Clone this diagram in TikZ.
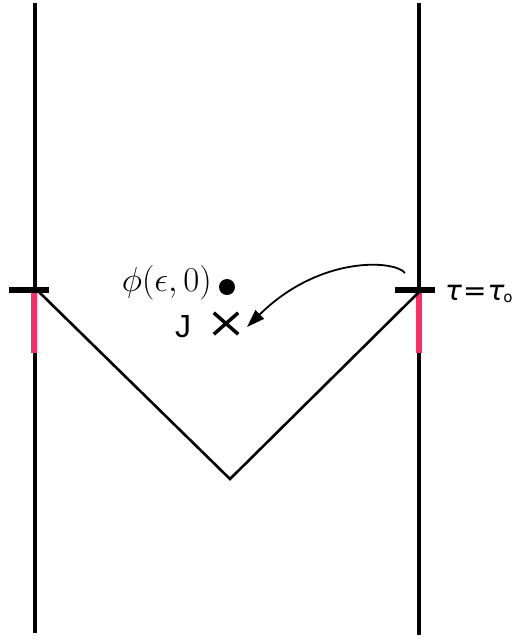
\documentclass[tikz,border=0pt]{standalone}
\usepackage{graphicx}
\usepackage{fontspec}
\newfontfamily\sans{Liberation Sans}
\newfontfamily\dvs{DejaVu Sans}
\newfontfamily\dvso{DejaVu Sans Oblique}
\usetikzlibrary{arrows.meta}
\begin{document}
\begin{tikzpicture}[x=1pt,y=-1pt,
  wall/.style={line width=3.5pt},
  vline/.style={line width=2.6pt},
  tick/.style={line width=6pt},
  pinkbar/.style={line width=5.5pt,draw=pinkc},
  lab/.style={inner sep=0pt}]
\definecolor{pinkc}{RGB}{255,45,100}
\useasboundingbox (0,0) rectangle (518,641);
\coordinate (lt) at (35,3);
\coordinate (lb) at (35,633);
\coordinate (rt) at (419,3);
\coordinate (rb) at (419,635);
\draw[wall] (lt) -- (lb);
\draw[wall] (rt) -- (rb);
\coordinate (lp1) at (34,292);
\coordinate (lp2) at (34,353);
\coordinate (rp1) at (419,292);
\coordinate (rp2) at (419,353);
\draw[pinkbar] (lp1) -- (lp2);
\draw[pinkbar] (rp1) -- (rp2);
\coordinate (lt1) at (9,290);
\coordinate (lt2) at (49,290);
\coordinate (rt1) at (395,290);
\coordinate (rt2) at (435,290);
\draw[tick] (lt1) -- (lt2);
\draw[tick] (rt1) -- (rt2);
\coordinate (vl) at (38,291);
\coordinate (vb) at (230,479);
\coordinate (vr) at (419,292);
\draw[vline] (vl) -- (vb) -- (vr);
\node[lab,anchor=east] (phi) at (212,283) {\scalebox{1.4}{\fontsize{24.88}{28}\selectfont$\phi(\epsilon,0)$}};
\node[circle,fill,inner sep=0pt,minimum size=16pt] (dot) at (227,287) {};
\node[lab,anchor=base] (J) at (183,337) {\sans\fontsize{32}{36}\selectfont J};
\node[inner sep=0pt,minimum width=24pt,minimum height=21pt] (X) at (226,323.5) {};
\draw[line width=3.5pt] (X.north west) -- (X.south east);
\draw[line width=3.5pt] (X.south west) -- (X.north east);
\node[lab,anchor=base west] (tau) at (445,300) {\fontsize{28}{32}\selectfont{\dvso τ}\hspace{1pt}{\dvs =}\hspace{1pt}{\dvso τ}\kern-1pt\raisebox{-2pt}{\dvs\fontsize{15}{16}\selectfont o}};
\coordinate (as) at (405,273);
\draw[line width=1.8pt,-{Triangle[length=18pt,width=12pt]}] (as) .. controls (395,260) and (320,255) .. (247,327);
\end{tikzpicture}
\end{document}
